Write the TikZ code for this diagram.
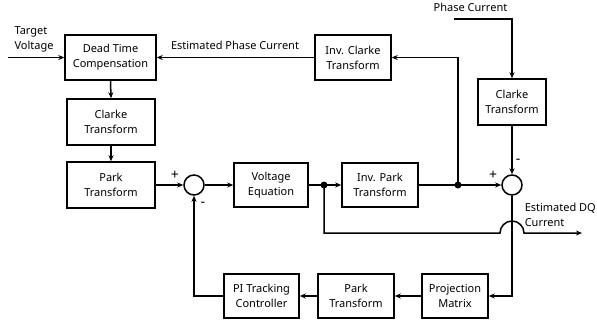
\documentclass[tikz,border=0pt]{standalone}
\usepackage{fontspec}
\setmainfont{Noto Sans}
\usetikzlibrary{arrows.meta,calc}
\begin{document}
\begin{tikzpicture}[x=1pt,y=-1pt, line width=1.5pt,
  blk/.style={draw, rectangle, align=center, font=\fontsize{11}{15}\selectfont, inner sep=0pt},
  sumc/.style={draw, circle, minimum size=20pt, inner sep=0pt},
  jdot/.style={fill, circle, minimum size=7pt, inner sep=0pt},
  arr/.style={-{Stealth[length=6pt,width=5pt]}},
  lbl/.style={font=\fontsize{11}{15}\selectfont, inner sep=0pt},
  sgn/.style={font=\fontsize{14}{14}\selectfont, inner sep=0pt}]
\useasboundingbox (0,0) rectangle (597,325);
\fill[white] (0,0) rectangle (597,325);

% blocks
\node[blk, minimum width=91pt, minimum height=45pt] (dtc) at (110.5,57.5) {Dead Time\\Compensation};
\node[blk, minimum width=88pt, minimum height=46pt] (clarke1) at (111,122) {Clarke\\Transform};
\node[blk, minimum width=88pt, minimum height=46pt] (park1) at (111,185) {Park\\Transform};
\node[sumc] (sum1) at (194,185) {};
\node[blk, minimum width=74pt, minimum height=44pt] (volt) at (271,185) {Voltage\\Equation};
\node[jdot] (dot1) at (324,185) {};
\node[blk, minimum width=76pt, minimum height=44pt] (ipark) at (380,185) {Inv. Park\\Transform};
\node[jdot] (dot2) at (458,185) {};
\node[sumc] (sum2) at (512,185) {};
\node[blk, minimum width=76pt, minimum height=45pt] (iclarke) at (353,57.5) {Inv. Clarke\\Transform};
\node[blk, minimum width=68pt, minimum height=46pt] (clarke2) at (512,102) {Clarke\\Transform};
\node[blk, minimum width=66pt, minimum height=44pt] (proj) at (455,296) {Projection\\Matrix};
\node[blk, minimum width=76pt, minimum height=44pt] (park2) at (356,296) {Park\\Transform};
\node[blk, minimum width=75pt, minimum height=44pt] (pi) at (261.5,296) {PI Tracking\\Controller};

% free ends
\coordinate (tv) at (8,57.5);
\coordinate (pc) at (454,19);
\coordinate (dq) at (582,233);

% labels
\node[lbl, align=left] (tvlbl) at (34,39.5) {Target\\Voltage};
\node[lbl] (eplbl) at (235,45) {Estimated Phase Current};
\node[lbl] (pclbl) at (470.5,7.5) {Phase Current};
\node[lbl, align=left, anchor=west] (dqlbl) at (524,214.5) {Estimated DQ\\Current};
\node[sgn] (p1) at (175,175) {+};
\node[sgn] (m1) at (203,204) {-};
\node[sgn] (p2) at (493,175) {+};
\node[sgn] (m2) at (518,161) {-};

% connectors
\draw[arr] (tv) -- (dtc.west);
\draw[arr] (iclarke.west) -- (dtc.east);
\draw[arr] (dtc.south) -- (clarke1.north);
\draw[arr] (clarke1.south) -- (park1.north);
\draw[arr] (park1.east) -- (sum1.west);
\draw[arr] (sum1.east) -- (volt.west);
\draw[arr] (volt.east) -- (ipark.west);
\draw[arr] (ipark.east) -- (sum2.west);
\draw[arr] (dot2.center) |- (iclarke.east);
\draw[arr] (pc) -| (clarke2.north);
\draw[arr] (clarke2.south) -- (sum2.north);
\draw[arr] (dot1.center) |- ($(sum2.center |- dq)+(-12,0)$)
  arc[start angle=180, end angle=360, radius=12] -- (dq);
\draw[arr] (sum2.south) |- (proj.east);
\draw[arr] (proj.west) -- (park2.east);
\draw[arr] (park2.west) -- (pi.east);
\draw[arr] (pi.west) -| (sum1.south);
\end{tikzpicture}
\end{document}
